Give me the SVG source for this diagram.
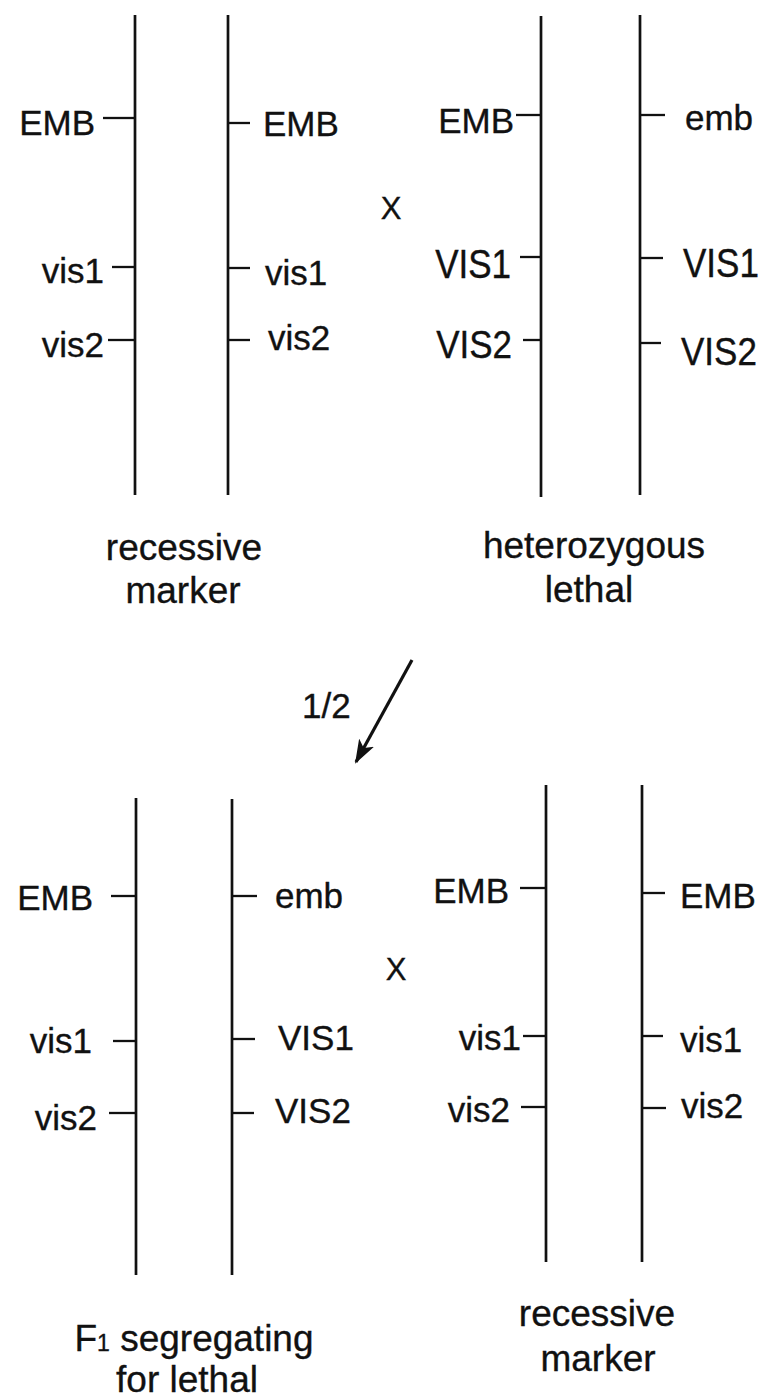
<svg xmlns="http://www.w3.org/2000/svg" width="766" height="1399" viewBox="0 0 766 1399">
<style>
  .chr { stroke: #111; stroke-width: 2.7; fill: none; }
  .tick { stroke: #111; stroke-width: 2.3; fill: none; }
  text { font-family: "Liberation Sans", Arial, Helvetica, sans-serif; fill: #111; stroke: #111; stroke-width: 0.35; }
  .g { font-size: 35px; }
  .lab { font-size: 37px; text-anchor: middle; }
  .x { font-size: 31px; text-anchor: middle; }
  .l { text-anchor: end; }
  .r { text-anchor: start; }
</style>
<defs>
  <marker id="ahead" viewBox="0 0 24 18" markerWidth="24" markerHeight="18" refX="22" refY="9" orient="auto" markerUnits="userSpaceOnUse">
    <path d="M0,0.5 L24,9 L0,17.5 L6,9 Z" fill="#111"/>
  </marker>
</defs>

<!-- Top left: recessive marker -->
<g id="top-left-chr1">
  <line class="chr" x1="135" y1="15" x2="135" y2="495"/>
  <line class="tick" x1="103" y1="118" x2="135" y2="118"/>
  <line class="tick" x1="112" y1="267" x2="135" y2="267"/>
  <line class="tick" x1="108" y1="340" x2="135" y2="340"/>
  <text class="g l" x="95" y="135">EMB</text>
  <text class="g l" x="104" y="283">vis1</text>
  <text class="g l" x="104" y="357">vis2</text>
</g>
<g id="top-left-chr2">
  <line class="chr" x1="228" y1="15" x2="228" y2="495"/>
  <line class="tick" x1="228" y1="123" x2="250" y2="123"/>
  <line class="tick" x1="228" y1="268" x2="250" y2="268"/>
  <line class="tick" x1="228" y1="340" x2="250" y2="340"/>
  <text class="g r" x="263" y="136">EMB</text>
  <text class="g r" x="265" y="285">vis1</text>
  <text class="g r" x="268" y="350">vis2</text>
</g>
<g id="top-left-label">
  <text class="lab" x="184" y="560">recessive</text>
  <text class="lab" x="183" y="603">marker</text>
</g>

<g id="top-cross">
  <text class="x" x="391" y="219">X</text>
</g>

<!-- Top right: heterozygous lethal -->
<g id="top-right-chr1">
  <line class="chr" x1="541" y1="16" x2="541" y2="497"/>
  <line class="tick" x1="516" y1="115" x2="541" y2="115"/>
  <line class="tick" x1="520" y1="257" x2="541" y2="257"/>
  <line class="tick" x1="523" y1="340" x2="541" y2="340"/>
  <text class="g l" x="514" y="133">EMB</text>
  <text class="g l" transform="translate(511,278) scale(1,1.17)">VIS1</text>
  <text class="g l" transform="translate(512,358) scale(1,1.12)">VIS2</text>
</g>
<g id="top-right-chr2">
  <line class="chr" x1="640" y1="15" x2="640" y2="495"/>
  <line class="tick" x1="640" y1="115" x2="665" y2="115"/>
  <line class="tick" x1="640" y1="258" x2="663" y2="258"/>
  <line class="tick" x1="640" y1="343" x2="661" y2="343"/>
  <text class="g r" x="685" y="130">emb</text>
  <text class="g r" transform="translate(683,277) scale(1,1.17)">VIS1</text>
  <text class="g r" transform="translate(681,365) scale(1,1.12)">VIS2</text>
</g>
<g id="top-right-label">
  <text class="lab" x="594" y="558">heterozygous</text>
  <text class="lab" x="589" y="602">lethal</text>
</g>

<!-- Connector -->
<g id="connectors">
  <line x1="412" y1="660" x2="356" y2="762" stroke="#111" stroke-width="3.2" marker-end="url(#ahead)"/>
  <text class="g" x="302" y="718" font-size="34">1/2</text>
</g>

<!-- Bottom left: F1 segregating for lethal -->
<g id="bottom-left-chr1">
  <line class="chr" x1="136" y1="798" x2="136" y2="1275"/>
  <line class="tick" x1="111" y1="896" x2="136" y2="896"/>
  <line class="tick" x1="113" y1="1041" x2="136" y2="1041"/>
  <line class="tick" x1="109" y1="1113" x2="136" y2="1113"/>
  <text class="g l" x="93" y="910">EMB</text>
  <text class="g l" x="92" y="1053">vis1</text>
  <text class="g l" x="97" y="1130">vis2</text>
</g>
<g id="bottom-left-chr2">
  <line class="chr" x1="232" y1="799" x2="232" y2="1275"/>
  <line class="tick" x1="232" y1="896" x2="257" y2="896"/>
  <line class="tick" x1="232" y1="1039" x2="255" y2="1039"/>
  <line class="tick" x1="232" y1="1113" x2="254" y2="1113"/>
  <text class="g r" x="275" y="908">emb</text>
  <text class="g r" x="278" y="1050">VIS1</text>
  <text class="g r" x="275" y="1123">VIS2</text>
</g>
<g id="bottom-left-label">
  <text class="lab" x="194" y="1351">F<tspan font-size="23">1</tspan> segregating</text>
  <text class="lab" x="187" y="1392">for lethal</text>
</g>

<g id="bottom-cross">
  <text class="x" x="396" y="980">X</text>
</g>

<!-- Bottom right: recessive marker -->
<g id="bottom-right-chr1">
  <line class="chr" x1="546" y1="785" x2="546" y2="1262"/>
  <line class="tick" x1="520" y1="888" x2="546" y2="888"/>
  <line class="tick" x1="523" y1="1036" x2="546" y2="1036"/>
  <line class="tick" x1="521" y1="1107" x2="546" y2="1107"/>
  <text class="g l" x="509" y="903">EMB</text>
  <text class="g l" x="521" y="1050">vis1</text>
  <text class="g l" x="510" y="1122" font-size="31">vis2</text>
</g>
<g id="bottom-right-chr2">
  <line class="chr" x1="642" y1="785" x2="642" y2="1262"/>
  <line class="tick" x1="642" y1="893" x2="665" y2="893"/>
  <line class="tick" x1="642" y1="1036" x2="663" y2="1036"/>
  <line class="tick" x1="642" y1="1108" x2="666" y2="1108"/>
  <text class="g r" x="680" y="908">EMB</text>
  <text class="g r" x="680" y="1052">vis1</text>
  <text class="g r" x="681" y="1118">vis2</text>
</g>
<g id="bottom-right-label">
  <text class="lab" x="597" y="1326">recessive</text>
  <text class="lab" x="598" y="1371">marker</text>
</g>
</svg>
